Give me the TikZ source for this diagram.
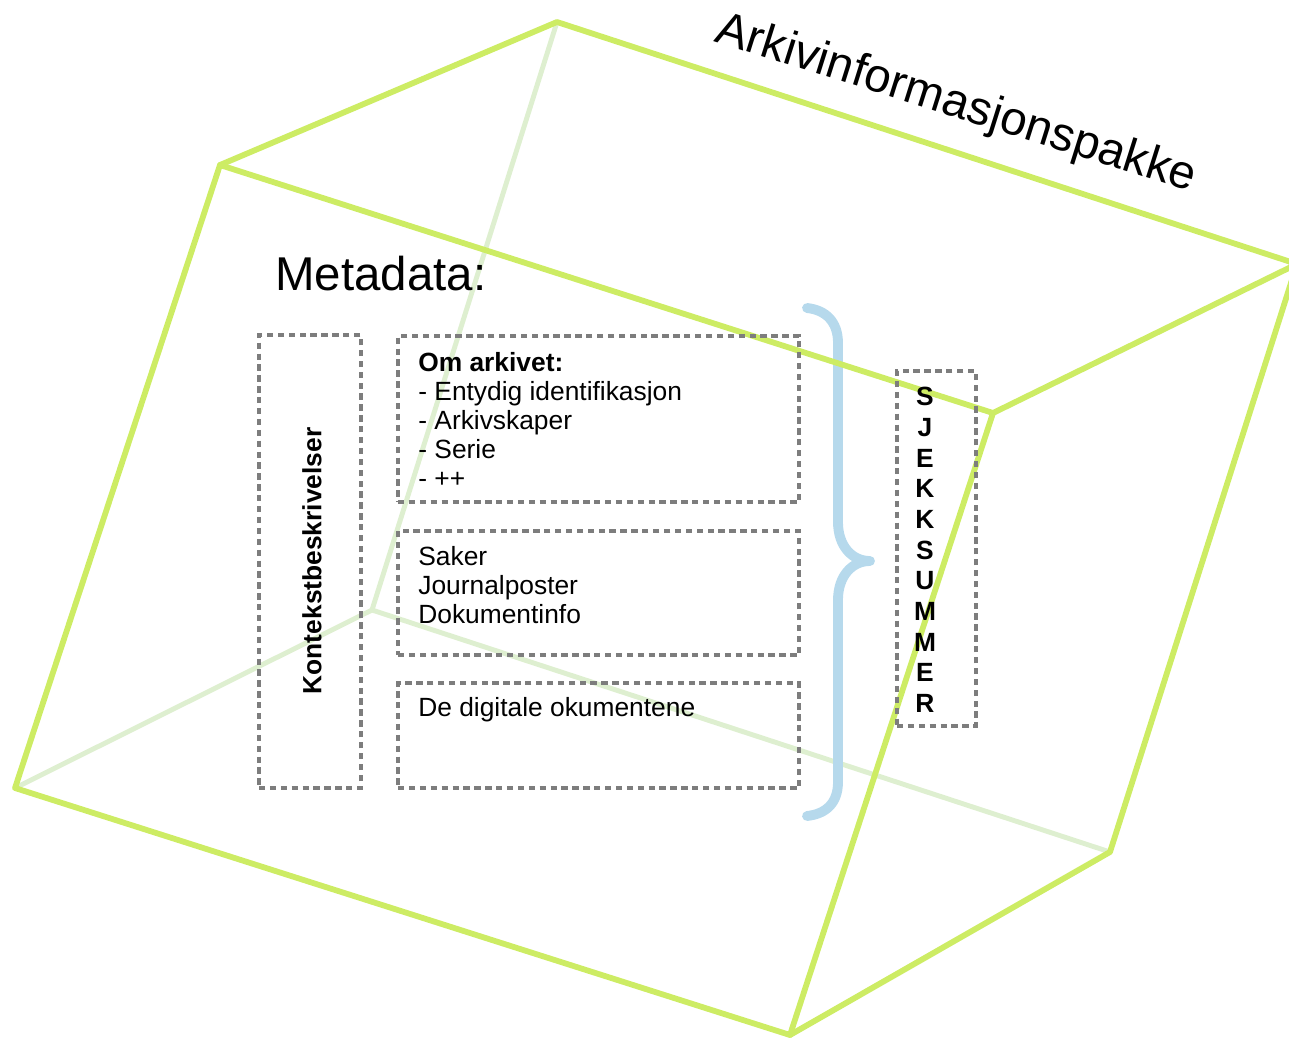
\documentclass[tikz,border=0pt]{standalone}
\usepackage{fontspec}
\setmainfont{Liberation Sans}
\definecolor{edgefront}{RGB}{205,236,100}
\definecolor{edgeback}{RGB}{222,239,208}
\definecolor{bracecol}{RGB}{182,217,236}
\definecolor{dashgray}{RGB}{125,125,125}
\begin{document}
\begin{tikzpicture}[x=0.02cm,y=-0.02cm,
  frontedge/.style={draw=edgefront,line width=3.3pt,line cap=round,line join=round},
  backedge/.style={draw=edgeback,line width=2.8pt,line cap=round,line join=round},
  dashbox/.style={draw=dashgray,line width=1.9pt,dash pattern=on 3.6pt off 2.6pt,
    rectangle,inner sep=0pt,outer sep=0pt},
  bracestyle/.style={draw=bracecol,line width=5.6pt,line cap=round,line join=round},
  bodytext/.style={inner sep=0pt,font=\fontsize{15}{16.4}\selectfont,align=left},
  bigtext/.style={inner sep=0pt,font=\fontsize{27}{32}\selectfont}]
\useasboundingbox (0,0) rectangle (1289,1038);

% corners of the package box
\coordinate (A) at (220,165);
\coordinate (B) at (993,413);
\coordinate (C) at (790,1035);
\coordinate (D) at (15,788);
\coordinate (E) at (557,22);
\coordinate (F) at (1297,264);
\coordinate (G) at (1110,852);
\coordinate (H) at (372,610);

% hidden edges
\draw[backedge] (E) -- (H);
\draw[backedge] (D) -- (H);
\draw[backedge] (H) -- (G);

% brace grouping the metadata
\draw[bracestyle] (807,308) .. controls (826,310) and (838,322) .. (838,343)
  -- (838,522) .. controls (838,546) and (852,561) .. (870,561)
  .. controls (852,561) and (838,576) .. (838,600)
  -- (838,782) .. controls (838,803) and (826,814) .. (807,816);

% visible edges
\draw[frontedge] (A) -- (B) -- (C) -- (D) -- cycle;
\draw[frontedge] (A) -- (E) -- (F) -- (B);
\draw[frontedge] (F) -- (G) -- (C);

% dashed boxes
\node[dashbox,minimum width=2.04cm,minimum height=9.06cm] (kontekst) at (310,561.5) {};
\node[dashbox,minimum width=8.02cm,minimum height=3.32cm] (om) at (598.5,419) {};
\node[dashbox,minimum width=8.02cm,minimum height=2.48cm] (saker) at (598.5,593) {};
\node[dashbox,minimum width=8.02cm,minimum height=2.1cm] (dok) at (598.5,735.5) {};
\node[dashbox,minimum width=1.58cm,minimum height=7.1cm] (sjekk) at (936.5,548.5) {};

% texts (a multi-line node's base is its last line)
\node[bigtext,anchor=base west,rotate=-17.5] (title) at (713,41) {Arkivinformasjonspakke};
\node[bigtext,anchor=base west] (meta) at (275,290) {Metadata:};
\node[bodytext,anchor=base west] (omtxt) at (418,487)
  {\textbf{Om arkivet:}\\- Entydig identifikasjon\\- Arkivskaper\\- Serie\\- ++};
\node[bodytext,anchor=base west] (sakertxt) at (418,623)
  {Saker\\Journalposter\\Dokumentinfo};
\node[bodytext,anchor=base west] (doktxt) at (418,716) {De digitale okumentene};
\node[bodytext,font=\fontsize{15}{16.4}\selectfont\bfseries,rotate=90] (konttxt) at (312,561) {Kontekstbeskrivelser};
\node[inner sep=0pt,align=center,font=\fontsize{15}{17.46}\selectfont\bfseries] (sjtxt) at (925,550)
  {S\\J\\E\\K\\K\\S\\U\\M\\M\\E\\R};
\end{tikzpicture}
\end{document}
